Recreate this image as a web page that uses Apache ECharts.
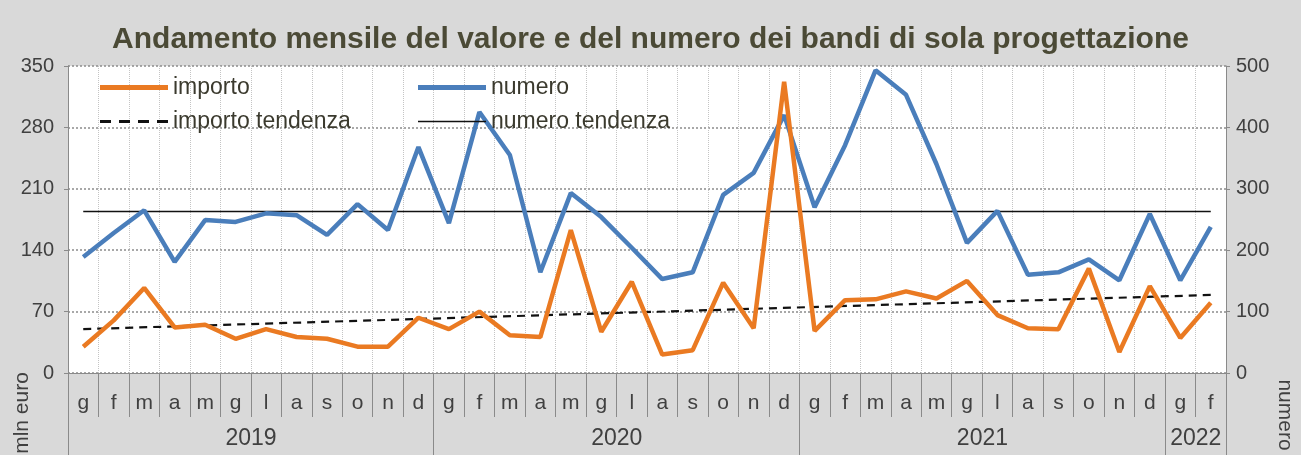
<!DOCTYPE html>
<html>
<head>
<meta charset="utf-8">
<script src="https://cdn.jsdelivr.net/npm/echarts@6/dist/echarts.min.js"></script>
<style>
  html, body { margin: 0; padding: 0; background: #d9d9d9; }
  #chart { width: 1301px; height: 455px; }
</style>
</head>
<body>
<div id="chart"></div>
<script>
// months g f m a m g l a s o n d, Jan 2019 .. Feb 2022
const monthLetters = ['g', 'f', 'm', 'a', 'm', 'g', 'l', 'a', 's', 'o', 'n', 'd']
const years = ['2019', '2020', '2021', '2022']
const monthsPerYear = [12, 12, 12, 2]

// mln euro
const importo = [
  30, 60, 97, 52, 55, 39, 50, 41, 39, 30, 30, 63,
  50, 70, 43, 41, 163, 47, 104, 21, 26, 103, 51, 332,
  48, 83, 84, 93, 85, 105, 66, 51, 50, 119, 24, 99,
  40, 80
]
// numero bandi
const numero = [
  189, 228, 265, 181, 249, 246, 260, 257, 225, 275, 233, 368,
  244, 425, 355, 164, 293, 254, 204, 153, 164, 290, 326, 420,
  270, 371, 493, 453, 340, 212, 264, 160, 164, 185, 151, 259,
  151, 238
]
// trend lines: value at first and last month
const importoTrend = [50, 89]
const numeroTrend = [263, 263]

const categories = years.flatMap((y, k) => monthLetters.slice(0, monthsPerYear[k]))
const last = categories.length - 1

// year label sits at the middle of its block of months
const yearLabelAt = {}
const yearEdges = []
let start = 0
years.forEach((y, k) => {
  yearEdges.push(start)
  yearLabelAt[start + Math.floor(monthsPerYear[k] / 2)] = y
  start += monthsPerYear[k]
})

const font = 'Liberation Sans, Arial, sans-serif'
const axisGray = '#8a8a8a'
const textGray = '#404040'
const orange = '#EA7A22'
const blue = '#4A7EBB'

// legend icons: plain bars, and four dashes for the dashed trend
const dashIcon = 'path://M0,0h11v3h-11z M19,0h11v3h-11z M38,0h11v3h-11z M57,0h11v3h-11z'

const chart = echarts.init(document.getElementById('chart'))

const legendItem = (name, icon, h, left, top) => ({
  data: [{ name, icon }],
  left,
  top,
  itemWidth: 68,
  itemHeight: h,
  itemGap: 6,
  selectedMode: false,
  textStyle: { fontFamily: font, fontSize: 23, color: '#3b3a2e' }
})

chart.setOption({
  backgroundColor: '#d9d9d9',
  textStyle: { fontFamily: font },
  title: {
    text: 'Andamento mensile del valore e del numero dei bandi di sola progettazione',
    left: 'center',
    top: 20,
    textStyle: { fontFamily: font, fontSize: 30, fontWeight: 'bold', color: '#4b4a36' }
  },
  legend: [
    legendItem('importo', 'rect', 5, 95, 71),
    legendItem('numero', 'rect', 5, 413, 71),
    legendItem('importo tendenza', dashIcon, 3, 95, 105),
    legendItem('numero tendenza', 'rect', 1.3, 413, 105)
  ],
  grid: {
    left: 68,
    right: 75,
    top: 66,
    bottom: 82,
    show: true,
    backgroundColor: '#fff',
    borderWidth: 0
  },
  xAxis: [
    {
      type: 'category',
      data: categories,
      boundaryGap: true,
      axisLine: { show: true, lineStyle: { color: axisGray } },
      axisTick: { show: true, interval: 0, length: 44, lineStyle: { color: axisGray } },
      axisLabel: { show: true, interval: 0, margin: 20, fontSize: 21, color: textGray },
      splitLine: {
        show: true,
        interval: 0,
        lineStyle: { color: '#c4c4c4', type: [1, 1], width: 1 }
      }
    },
    {
      type: 'category',
      data: categories,
      position: 'bottom',
      boundaryGap: true,
      axisLine: { show: false },
      axisTick: {
        show: true,
        interval: i => yearEdges.includes(i),
        length: 82,
        lineStyle: { color: axisGray }
      },
      axisLabel: {
        show: true,
        interval: 0,
        margin: 54,
        fontSize: 23,
        color: textGray,
        padding: [0, 30, 0, 0],
        formatter: (v, i) => yearLabelAt[i] || ''
      },
      splitLine: { show: false }
    }
  ],
  yAxis: [
    {
      type: 'value',
      min: 0,
      max: 350,
      interval: 70,
      axisLine: { show: true, lineStyle: { color: axisGray } },
      axisTick: { show: true, length: 4, lineStyle: { color: axisGray } },
      axisLabel: { margin: 14, fontSize: 20, color: textGray },
      splitLine: { show: true, lineStyle: { color: '#8c8c8c', type: [2, 2], width: 1.5 } }
    },
    {
      type: 'value',
      min: 0,
      max: 500,
      interval: 100,
      position: 'right',
      axisLine: { show: true, lineStyle: { color: axisGray } },
      axisTick: { show: true, length: 4, lineStyle: { color: axisGray } },
      axisLabel: { margin: 10, fontSize: 20, color: textGray },
      splitLine: { show: false }
    }
  ],
  graphic: [
    {
      type: 'text',
      x: 22,
      y: 413,
      rotation: Math.PI / 2,
      style: { text: 'mln euro', fontFamily: font, fontSize: 21, fill: textGray, align: 'center', verticalAlign: 'middle' }
    },
    {
      type: 'text',
      x: 1285,
      y: 415,
      rotation: -Math.PI / 2,
      style: { text: 'numero', fontFamily: font, fontSize: 21, fill: textGray, align: 'center', verticalAlign: 'middle' }
    }
  ],
  series: [
    {
      name: 'numero tendenza',
      type: 'line',
      yAxisIndex: 1,
      data: [[0, numeroTrend[0]], [last, numeroTrend[1]]],
      symbol: 'none',
      lineStyle: { color: '#111', width: 1.3 },
      itemStyle: { color: '#111' },
      silent: true
    },
    {
      name: 'importo tendenza',
      type: 'line',
      yAxisIndex: 0,
      data: [[0, importoTrend[0]], [last, importoTrend[1]]],
      symbol: 'none',
      lineStyle: { color: '#111', width: 2.2, type: [8, 6] },
      itemStyle: { color: '#111' },
      silent: true
    },
    {
      name: 'numero',
      type: 'line',
      yAxisIndex: 1,
      data: numero,
      symbol: 'none',
      lineStyle: { color: blue, width: 4.5 },
      itemStyle: { color: blue }
    },
    {
      name: 'importo',
      type: 'line',
      yAxisIndex: 0,
      data: importo,
      symbol: 'none',
      z: 3,
      lineStyle: { color: orange, width: 4.5 },
      itemStyle: { color: orange }
    }
  ]
})
</script>
</body>
</html>
